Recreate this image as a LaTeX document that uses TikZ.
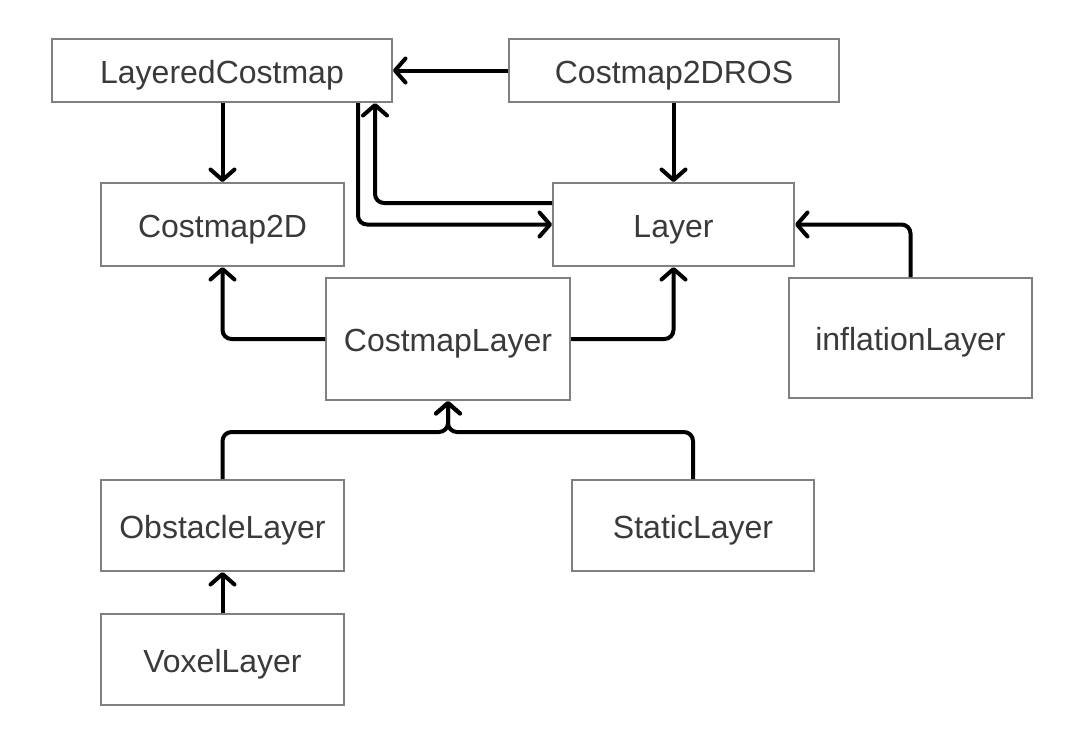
\documentclass[tikz,border=0pt]{standalone}
\usepackage{fontspec}
\setmainfont{Liberation Sans}
\usetikzlibrary{arrows.meta}
\definecolor{boxgray}{HTML}{808080}
\definecolor{txtgray}{HTML}{3A3A3A}
\tikzset{
  cls/.style={draw=boxgray, line width=2pt, rectangle, fill=white, inner sep=0pt,
              text height=25pt, text depth=0pt,
              font=\fontsize{32}{36}\selectfont, text=txtgray},
  arr/.style={draw=black, line width=4pt, rounded corners=9pt, line join=round,
              -{Straight Barb[length=10.5pt,width=24pt,line cap=round,line join=round]}},
}
\begin{document}
\begin{tikzpicture}[x=1pt,y=-1pt]
\useasboundingbox[fill=white] (0,0) rectangle (1076,740);
% nodes
\node[cls, minimum width=340pt, minimum height=63pt] (LC) at (222,70.5) {LayeredCostmap};
\node[cls, minimum width=330pt, minimum height=63pt] (ROS) at (674,70.5) {Costmap2DROS};
\node[cls, minimum width=243pt, minimum height=83pt] (C2D) at (222.5,224.5) {Costmap2D};
\node[cls, minimum width=241pt, minimum height=83pt] (Layer) at (673.5,224.5) {Layer};
\node[cls, minimum width=244pt, minimum height=122pt] (CL) at (448,339) {CostmapLayer};
\node[cls, minimum width=243pt, minimum height=120pt] (Infl) at (910.5,338) {inflationLayer};
\node[cls, minimum width=243pt, minimum height=91pt] (Obs) at (222.5,525.5) {ObstacleLayer};
\node[cls, minimum width=242pt, minimum height=91pt] (Static) at (693,525.5) {StaticLayer};
\node[cls, minimum width=243pt, minimum height=91pt] (Voxel) at (222.5,659.5) {VoxelLayer};
\coordinate (J) at ([yshift=-31pt]CL.south);
% connectors
\draw[arr] (ROS.west) -- (LC.east);
\draw[arr] (LC.south -| C2D.north) -- (C2D.north);
\draw[arr] (ROS.south -| Layer.north) -- (Layer.north);
\draw[arr] ([xshift=-35pt]LC.south east) |- (Layer.west);
\draw[arr] ([yshift=21.5pt]Layer.west) -| ([xshift=-18pt]LC.south east);
\draw[arr] (CL.west) -| (C2D.south);
\draw[arr] (CL.east) -| (Layer.south);
\draw[arr] (Infl.north) |- (Layer.east);
\draw[arr] (Obs.north) |- (J) -- (CL.south);
\draw[arr] (Static.north) |- (J) -- (CL.south);
\draw[arr] (Voxel.north) -- (Obs.south);
\end{tikzpicture}
\end{document}
